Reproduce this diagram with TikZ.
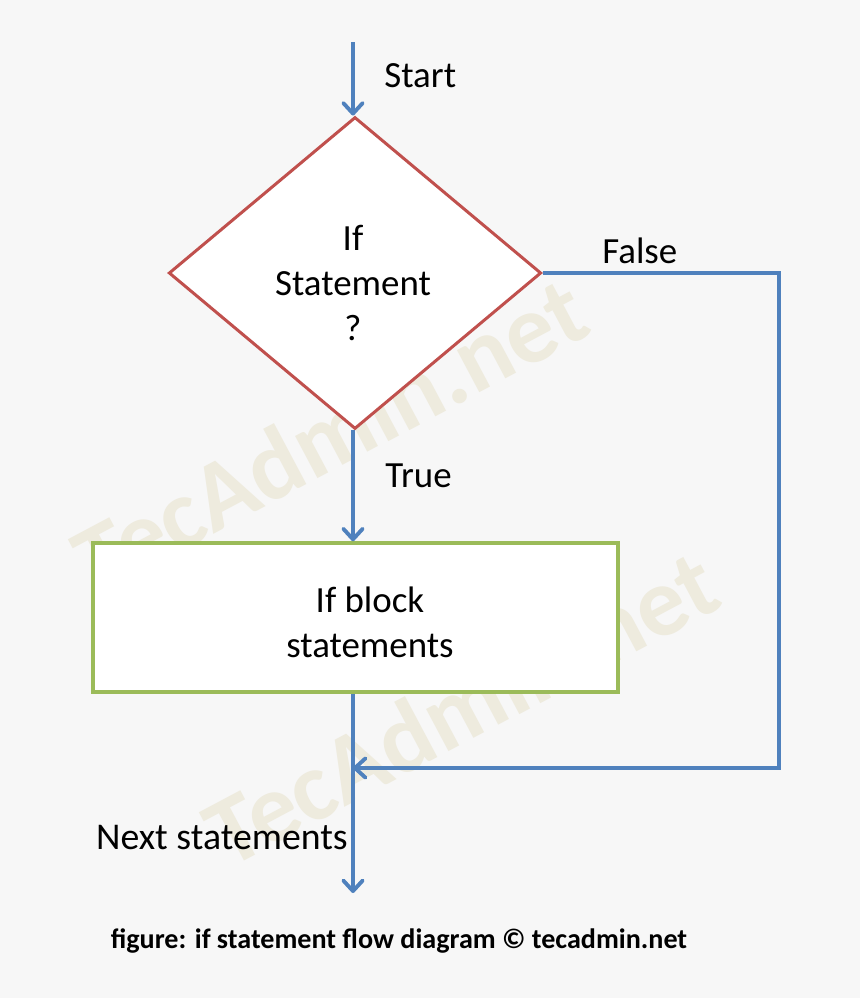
\documentclass[tikz,border=0pt]{standalone}
\usepackage{fontspec}
\setmainfont{Carlito}
\usetikzlibrary{
  arrows.meta,
  positioning,
  shapes.geometric
}
\definecolor{bggray}{RGB}{247,247,247}
\definecolor{flowblue}{RGB}{79,129,189}
\definecolor{condred}{RGB}{192,80,77}
\definecolor{blockgreen}{RGB}{155,187,89}
\definecolor{wmbeige}{RGB}{238,235,222}

\begin{document}
\begin{tikzpicture}[x=0.02cm, y=-0.02cm,
  flowline/.style={draw=flowblue, line width=2.2pt},
  flowarrow/.style={flowline, -{Straight Barb[length=6pt,width=11pt,round]}},
  lbl/.style={font=\fontsize{21}{25.5}\selectfont, inner sep=0pt},
  watermark/.style={font=\bfseries\fontsize{56}{60}\selectfont, text=wmbeige, rotate=28}]
\fill[bggray] (0,0) rectangle (860,998);
\useasboundingbox (0,0) rectangle (860,998);

% watermarks under everything
\node[watermark] (wm1) at (330,434) {TecAdmin.net};
\node[watermark] (wm2) at (461,707) {TecAdmin.net};

\coordinate (start) at (353,42);
\coordinate (fr) at (779,273);
\coordinate (br) at (779,768);
\coordinate (mg) at (353,768);
\coordinate (nxt) at (353,893);

\node[diamond, draw=condred, fill=white, line width=1.7pt, minimum width=7.45cm, minimum height=6.24cm, inner sep=0pt] (cond) at (355,273) {};
\node[lbl, align=center] (condtxt) at (353,283) {If\\Statement\\?};
\node[rectangle, draw=blockgreen, fill=white, line width=2pt, minimum width=10.5cm, minimum height=2.98cm] (blk) at (355.5,617.5) {};
\node[lbl, align=center] (blktxt) at (370,622) {If block\\statements};

\node[lbl, anchor=base west] (lstart) at (384,87) {Start};
\node[lbl, anchor=base west] (lfalse) at (602,263) {False};
\node[lbl, anchor=base west] (ltrue) at (385,487) {True};
\node[lbl, font=\fontsize{21.5}{25.5}\selectfont, anchor=base east] (lnext) at (348,849) {Next statements};

\draw[flowarrow] (start) -- (start |- cond.north);
\draw[flowarrow] (start |- cond.south) -- (start |- blk.north);
\draw[flowarrow] (cond.east) -- (fr) -- (br) -- (mg);
\draw[flowarrow] (start |- blk.south) -- (nxt);

\node[font=\bfseries\fontsize{16}{19}\selectfont, anchor=base] (caption) at (399,948) {figure: if statement flow diagram © tecadmin.net};
\end{tikzpicture}
\end{document}
